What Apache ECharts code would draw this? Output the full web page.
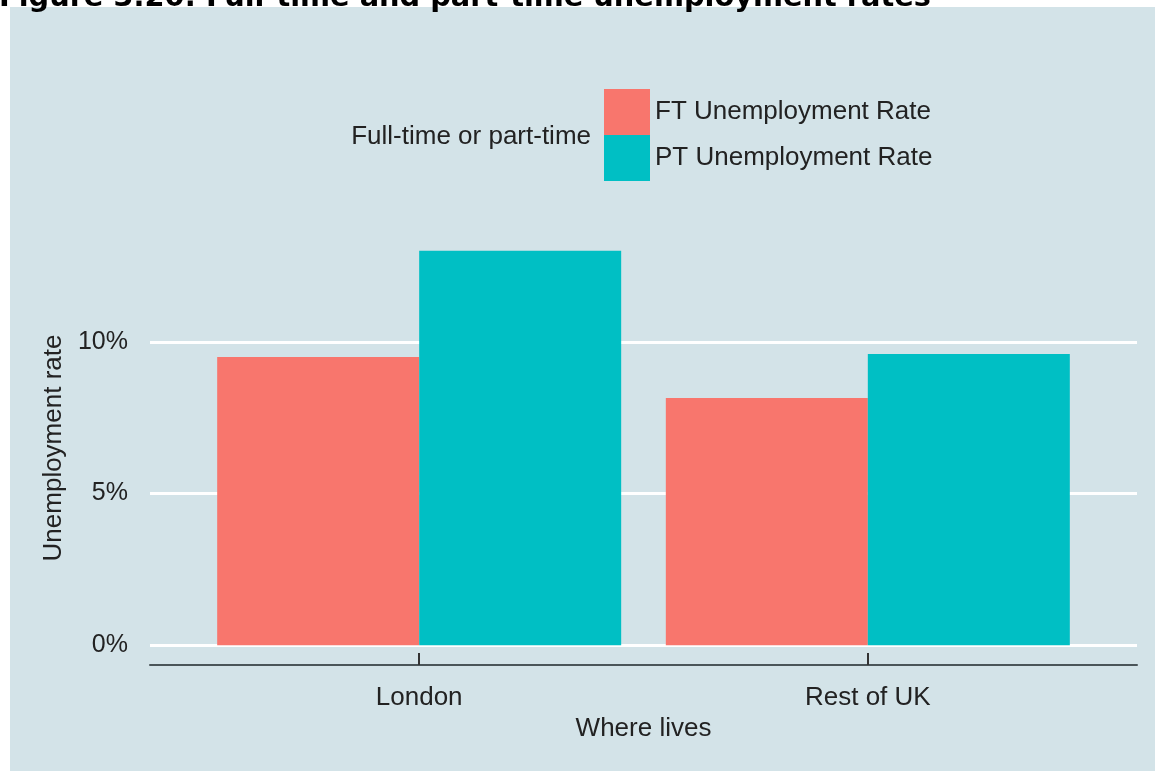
<!DOCTYPE html>
<html>
<head>
<meta charset="utf-8">
<script src="https://cdn.jsdelivr.net/npm/echarts@6/dist/echarts.min.js"></script>
<style>
html,body{margin:0;padding:0;background:#fff;}
#main{width:1155px;height:771px;}
</style>
</head>
<body>
<div id="main"></div>
<script>
// 数据
var categories = ['London', 'Rest of UK'];
var ftRate = [9.5, 8.15];
var ptRate = [13.0, 9.6];
var yTicks = [0, 5, 10];
var seriesNames = ['FT Unemployment Rate', 'PT Unemployment Rate'];

// 类别放在 1,2 位置上（和 ggplot 的离散轴一样）
function toPoints(arr) {
    return arr.map(function (v, i) { return [i + 1, v]; });
}

var mycharts = echarts.init(document.getElementById('main'));
var font = '"Liberation Sans", Arial, sans-serif';

var options = {
    backgroundColor: '#ffffff',
    animation: false,
    graphic: [
        {
            type: 'rect', z: -10, silent: true,
            shape: { x: 10, y: 7, width: 1145, height: 764 },
            style: { fill: '#d3e3e8' }
        },
        {
            type: 'text', z: 10,
            left: -1, top: -16,
            style: {
                text: 'Figure 3.20: Full-time and part-time unemployment rates',
                fontFamily: '"DejaVu Sans", Verdana, sans-serif',
                fontWeight: 'bold', fontSize: 28.8, fill: '#000'
            }
        },
        {
            type: 'text',
            x: 591, y: 137,
            style: {
                text: 'Full-time or part-time',
                fontFamily: font, fontSize: 26, fill: '#222',
                align: 'right', verticalAlign: 'middle'
            }
        }
    ],
    legend: {
        orient: 'vertical',
        left: 599, top: 84,
        itemWidth: 46, itemHeight: 46, itemGap: 0,
        icon: 'rect',
        data: seriesNames,
        textStyle: { fontFamily: font, fontSize: 26, color: '#222', padding: [6, 0, 0, 0] }
    },
    grid: { left: 150, right: 18, top: 231, bottom: 106 },
    xAxis: {
        type: 'value',
        min: 0.4, max: 2.6,
        name: 'Where lives',
        nameLocation: 'middle',
        nameGap: 51,
        nameTextStyle: { fontFamily: font, fontSize: 26, color: '#222' },
        axisLine: { show: true, onZero: false, lineStyle: { color: '#4a5559', width: 2 } },
        axisTick: { show: true, inside: true, length: 12, customValues: [1, 2], lineStyle: { color: '#333', width: 2 } },
        axisLabel: {
            customValues: [1, 2],
            margin: 20,
            fontFamily: font, fontSize: 26, color: '#222',
            formatter: function (v) { return categories[Math.round(v) - 1] || ''; }
        },
        splitLine: { show: false }
    },
    yAxis: {
        type: 'value',
        min: -0.65, max: 13.65,
        name: 'Unemployment rate',
        nameLocation: 'middle',
        nameGap: 68,
        nameTextStyle: { fontFamily: font, fontSize: 26, color: '#222' },
        axisLine: { show: false },
        axisTick: { show: false, customValues: yTicks },
        axisLabel: {
            customValues: yTicks,
            margin: 22,
            fontFamily: font, fontSize: 25, color: '#222',
            formatter: function (v) { return v + '%'; }
        },
        splitLine: { show: true, lineStyle: { color: '#ffffff', width: 3 } }
    },
    series: [
        {
            name: seriesNames[0],
            type: 'bar',
            data: toPoints(ftRate),
            barWidth: 202,
            barGap: '0%',
            itemStyle: { color: '#F8766D' }
        },
        {
            name: seriesNames[1],
            type: 'bar',
            data: toPoints(ptRate),
            barWidth: 202,
            barGap: '0%',
            itemStyle: { color: '#00BFC4' }
        }
    ]
};

mycharts.setOption(options, true);
window.addEventListener('resize', function () { mycharts.resize(); });
</script>
</body>
</html>
